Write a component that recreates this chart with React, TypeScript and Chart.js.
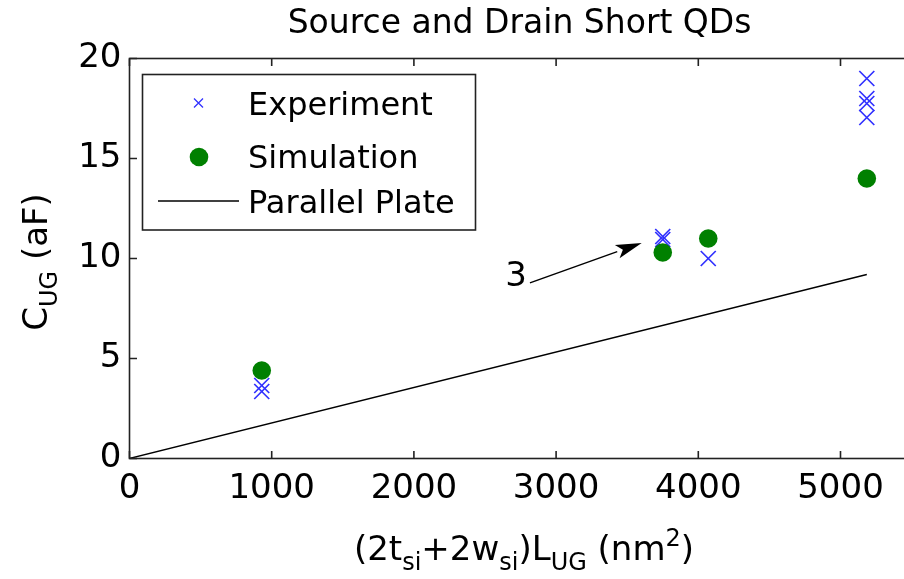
import React, { useEffect, useRef } from "react";
import { Chart, registerables } from "chart.js";

Chart.register(...registerables);

// ---- data ----
const expX = [930, 930, 3750, 3750, 4070, 5185, 5185, 5185, 5185];
const expY = [3.65, 3.35, 11.1, 10.95, 10.0, 19.0, 18.0, 17.75, 17.05];
const simX = [930, 3750, 4070, 5185];
const simY = [4.4, 10.3, 11.0, 14.0];
const plateX = [0, 5185];
const plateY = [0, 9.2];
const xTicks = [0, 1000, 2000, 3000, 4000, 5000];
const yTicks = [0, 5, 10, 15, 20];
const xRange = [0, 5500];
const yRange = [0, 20];
const titleText = "Source and Drain Short QDs";
const legendLabels = ["Experiment", "Simulation", "Parallel Plate"];
const annotationText = "3";
const arrowStart = [2816, 8.78];
const arrowTip = [3602, 10.78];
const annotationPos = [2718, 9.13];

const FONT = '"DejaVu Sans", "Liberation Sans", Arial, sans-serif';
const W = 924;
const H = 579;
const BLUE = "rgb(50,50,255)";
const GREEN = "rgb(0,128,0)";

type Seg = { t: string; s: "n" | "b" | "p" };

function drawRich(ctx: CanvasRenderingContext2D, segs: Seg[], cx: number, baseY: number, main: number, small: number) {
  const fontFor = (s: Seg["s"]) => `${s === "n" ? main : small}px ${FONT}`;
  let total = 0;
  for (const sg of segs) {
    ctx.font = fontFor(sg.s);
    total += ctx.measureText(sg.t).width;
  }
  let x = cx - total / 2;
  ctx.textAlign = "left";
  ctx.textBaseline = "alphabetic";
  for (const sg of segs) {
    ctx.font = fontFor(sg.s);
    const dy = sg.s === "b" ? main * 0.3 : sg.s === "p" ? -main * 0.42 : 0;
    ctx.fillText(sg.t, x, baseY + dy);
    x += ctx.measureText(sg.t).width;
  }
}

const decor = {
  id: "decor",
  afterDraw(chart: any) {
    const { ctx, chartArea: a, scales } = chart;
    const x = scales.x;
    const y = scales.y;
    ctx.save();
    // box
    ctx.strokeStyle = "#222";
    ctx.lineWidth = 1.6;
    ctx.strokeRect(a.left, a.top, a.right - a.left, a.bottom - a.top);
    // inward ticks
    const TL = 7.5;
    ctx.beginPath();
    for (const v of xTicks) {
      const px = x.getPixelForValue(v);
      ctx.moveTo(px, a.bottom);
      ctx.lineTo(px, a.bottom - TL);
      ctx.moveTo(px, a.top);
      ctx.lineTo(px, a.top + TL);
    }
    for (const v of yTicks) {
      const py = y.getPixelForValue(v);
      ctx.moveTo(a.left, py);
      ctx.lineTo(a.left + TL, py);
      ctx.moveTo(a.right, py);
      ctx.lineTo(a.right - TL, py);
    }
    ctx.stroke();

    ctx.fillStyle = "#000";
    // title
    ctx.font = `33px ${FONT}`;
    ctx.textAlign = "center";
    ctx.textBaseline = "alphabetic";
    ctx.fillText(titleText, (a.left + a.right) / 2 - 1, 33);

    // x title
    drawRich(
      ctx,
      [
        { t: "(2t", s: "n" },
        { t: "si", s: "b" },
        { t: "+2w", s: "n" },
        { t: "si", s: "b" },
        { t: ")L", s: "n" },
        { t: "UG", s: "b" },
        { t: " (nm", s: "n" },
        { t: "2", s: "p" },
        { t: ")", s: "n" },
      ],
      524,
      560,
      34,
      24
    );

    // y title
    ctx.save();
    ctx.translate(47, 262);
    ctx.rotate(-Math.PI / 2);
    drawRich(
      ctx,
      [
        { t: "C", s: "n" },
        { t: "UG", s: "b" },
        { t: " (aF)", s: "n" },
      ],
      0,
      0,
      34,
      24
    );
    ctx.restore();

    // legend
    const lx = 142.5, ly = 74.5, lw = 333, lh = 155.5;
    ctx.fillStyle = "#fff";
    ctx.fillRect(lx, ly, lw, lh);
    ctx.strokeStyle = "#222";
    ctx.lineWidth = 1.6;
    ctx.strokeRect(lx, ly, lw, lh);
    ctx.fillStyle = "#000";
    ctx.font = `32px ${FONT}`;
    ctx.textAlign = "left";
    ctx.textBaseline = "alphabetic";
    const rows = [115, 168, 213];
    legendLabels.forEach((lab, i) => ctx.fillText(lab, 248, rows[i]));
    // markers
    ctx.strokeStyle = BLUE;
    ctx.lineWidth = 1.3;
    ctx.beginPath();
    const mx = 198.5, my = 103;
    ctx.moveTo(mx - 4.5, my - 4.5);
    ctx.lineTo(mx + 4.5, my + 4.5);
    ctx.moveTo(mx + 4.5, my - 4.5);
    ctx.lineTo(mx - 4.5, my + 4.5);
    ctx.stroke();
    ctx.fillStyle = GREEN;
    ctx.beginPath();
    ctx.arc(199, 157, 9.3, 0, Math.PI * 2);
    ctx.fill();
    ctx.strokeStyle = "#000";
    ctx.lineWidth = 1.3;
    ctx.beginPath();
    ctx.moveTo(158, 201);
    ctx.lineTo(239, 201);
    ctx.stroke();

    // annotation arrow
    const sx = x.getPixelForValue(arrowStart[0]);
    const sy = y.getPixelForValue(arrowStart[1]);
    const tx = x.getPixelForValue(arrowTip[0]);
    const ty = y.getPixelForValue(arrowTip[1]);
    const ang = Math.atan2(ty - sy, tx - sx);
    const hl = 26, hw = 7;
    const bx = tx - Math.cos(ang) * hl;
    const by = ty - Math.sin(ang) * hl;
    ctx.strokeStyle = "#000";
    ctx.lineWidth = 1.5;
    ctx.beginPath();
    ctx.moveTo(sx, sy);
    ctx.lineTo(bx, by);
    ctx.stroke();
    ctx.fillStyle = "#000";
    ctx.beginPath();
    ctx.moveTo(tx, ty);
    ctx.lineTo(bx - Math.sin(ang) * hw, by + Math.cos(ang) * hw);
    ctx.lineTo(bx + Math.cos(ang) * 6, by + Math.sin(ang) * 6);
    ctx.lineTo(bx + Math.sin(ang) * hw, by - Math.cos(ang) * hw);
    ctx.closePath();
    ctx.fill();
    ctx.font = `34px ${FONT}`;
    ctx.textAlign = "center";
    ctx.textBaseline = "middle";
    ctx.fillText(annotationText, x.getPixelForValue(annotationPos[0]), y.getPixelForValue(annotationPos[1]) + 1);

    ctx.restore();
  },
};

export default function App() {
  const ref = useRef<HTMLCanvasElement | null>(null);
  useEffect(() => {
    document.body.style.margin = "0";
    document.body.style.overflow = "hidden";
    const canvas = ref.current!;
    const chart = new Chart(canvas, {
      type: "scatter",
      data: {
        datasets: [
          {
            label: legendLabels[1],
            data: simX.map((v, i) => ({ x: v, y: simY[i] })),
            pointStyle: "circle",
            pointRadius: 9.3,
            backgroundColor: GREEN,
            borderColor: GREEN,
            borderWidth: 0,
          },
          {
            label: legendLabels[0],
            data: expX.map((v, i) => ({ x: v, y: expY[i] })),
            pointStyle: "crossRot",
            pointRadius: 10.6,
            borderColor: BLUE,
            backgroundColor: BLUE,
            borderWidth: 1.7,
          },
          {
            label: legendLabels[2],
            type: "line",
            data: plateX.map((v, i) => ({ x: v, y: plateY[i] })),
            borderColor: "#000",
            borderWidth: 1.3,
            pointRadius: 0,
            fill: false,
            tension: 0,
          } as any,
        ],
      },
      options: {
        animation: false,
        responsive: false,
        maintainAspectRatio: false,
        devicePixelRatio: 1,
        layout: { padding: { left: 0, top: 58.5, right: W - 911.6, bottom: 0 } },
        plugins: { legend: { display: false }, tooltip: { enabled: false }, title: { display: false } },
        scales: {
          x: {
            type: "linear",
            min: xRange[0],
            max: xRange[1],
            afterBuildTicks: (s: any) => {
              s.ticks = xTicks.map((v) => ({ value: v }));
            },
            afterFit: (s: any) => {
              s.height = H - 458.5;
            },
            grid: { display: false, drawTicks: false },
            border: { display: false },
            ticks: {
              font: { family: FONT, size: 34 },
              color: "#000",
              padding: 10,
              maxRotation: 0,
              autoSkip: false,
              callback: (v: any) => String(v),
            },
          },
          y: {
            type: "linear",
            min: yRange[0],
            max: yRange[1],
            afterBuildTicks: (s: any) => {
              s.ticks = yTicks.map((v) => ({ value: v }));
            },
            afterFit: (s: any) => {
              s.width = 129.5;
            },
            grid: { display: false, drawTicks: false },
            border: { display: false },
            ticks: {
              font: { family: FONT, size: 34 },
              color: "#000",
              padding: 8,
              autoSkip: false,
              callback: (v: any) => String(v),
            },
          },
        },
      },
      plugins: [decor],
    });
    return () => chart.destroy();
  }, []);
  return (
    <div style={{ position: "fixed", left: 0, top: 0, width: W, height: H, background: "#fff" }}>
      <canvas ref={ref} width={W} height={H} style={{ width: W, height: H, display: "block" }} />
    </div>
  );
}
